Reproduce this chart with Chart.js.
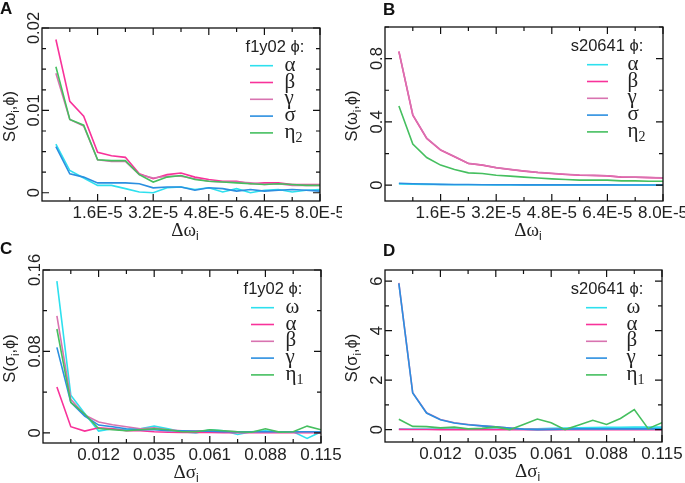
<!DOCTYPE html>
<html>
<head>
<meta charset="utf-8">
<script src="https://cdn.jsdelivr.net/npm/chart.js@4.4.1/dist/chart.umd.min.js"></script>
<style>
  body { margin: 0; background: #fff; width: 685px; height: 483px; position: relative; overflow: hidden; }
  canvas { position: absolute; }
</style>
</head>
<body>
<canvas id="panelA" width="342" height="241" style="left:0;top:0"></canvas>
<canvas id="panelB" width="343" height="241" style="left:342px;top:0"></canvas>
<canvas id="panelC" width="342" height="242" style="left:0;top:241px"></canvas>
<canvas id="panelD" width="343" height="242" style="left:342px;top:241px"></canvas>
<script>
// x positions: frequency steps (A, B)
const dOmega = [0.4e-5, 0.8e-5, 1.2e-5, 1.6e-5, 2.0e-5, 2.4e-5, 2.8e-5, 3.2e-5, 3.6e-5, 4.0e-5,
                4.4e-5, 4.8e-5, 5.2e-5, 5.6e-5, 6.0e-5, 6.4e-5, 6.8e-5, 7.2e-5, 7.6e-5, 8.0e-5];
const omegaTicks = [1.6e-5, 3.2e-5, 4.8e-5, 6.4e-5, 8.0e-5];
const omegaTickLabels = ['1.6E-5', '3.2E-5', '4.8E-5', '6.4E-5', '8.0E-5'];
const omegaMinorTicks = [0.8e-5, 2.4e-5, 4.0e-5, 5.6e-5, 7.2e-5];

// x positions: sigma steps (C, D), plotted evenly spaced
const dSigmaPos = [1, 2, 3, 4, 5, 6, 7, 8, 9, 10, 11, 12, 13, 14, 15, 16, 17, 18, 19, 20];
const sigmaTicks = [4, 8, 12, 16, 20];
const sigmaTickLabels = ['0.012', '0.035', '0.061', '0.088', '0.115'];
const sigmaMinorTicks = [2, 6, 10, 14, 18];

const omegaNames = ['α', 'β', 'γ', 'σ', 'η2'];
const sigmaNames = ['ω', 'α', 'β', 'γ', 'η1'];

// panel A: f1y02, S(omega_i, phi)
const alphaA = [0.0059, 0.0027, 0.0018, 0.0009, 0.0009, 0.0005, 0.0001, 0.0000, 0.0006, 0.0007,
                0.0004, 0.0006, 0.0001, 0.0005, 0.0000, 0.0003, 0.0004, 0.0001, 0.0003, 0.0004];
const betaA  = [0.0186, 0.0111, 0.0093, 0.0049, 0.0045, 0.0043, 0.0023, 0.0017, 0.0022, 0.0024,
                0.0019, 0.0016, 0.0014, 0.0014, 0.0011, 0.0012, 0.0012, 0.0010, 0.0010, 0.0010];
const gammaA = [0.0145, 0.0089, 0.0081, 0.0040, 0.0038, 0.0038, 0.0022, 0.0018, 0.0020, 0.0020,
                0.0017, 0.0014, 0.0013, 0.0013, 0.0012, 0.0010, 0.0011, 0.0009, 0.0009, 0.0009];
const sigmaA = [0.0056, 0.0023, 0.0019, 0.0012, 0.0012, 0.0012, 0.0011, 0.0006, 0.0007, 0.0007,
                0.0003, 0.0006, 0.0005, 0.0002, 0.0004, 0.0002, 0.0003, 0.0004, 0.0003, 0.0002];
const eta2A  = [0.0153, 0.0089, 0.0082, 0.0040, 0.0039, 0.0039, 0.0022, 0.0013, 0.0019, 0.0021,
                0.0016, 0.0014, 0.0013, 0.0012, 0.0011, 0.0010, 0.0011, 0.0010, 0.0009, 0.0009];

// panel B: s20641, S(omega_i, phi)
const alphaB = [0.008, 0.006, 0.005, 0.004, 0.003, 0.003, 0.003, 0.002, 0.002, 0.002,
                0.002, 0.002, 0.001, 0.001, 0.001, 0.001, 0.001, 0.001, 0.001, 0.001];
const betaB  = [0.844, 0.443, 0.295, 0.222, 0.180, 0.137, 0.127, 0.110, 0.099, 0.089,
                0.080, 0.074, 0.068, 0.063, 0.061, 0.059, 0.051, 0.050, 0.048, 0.045];
const gammaB = [0.846, 0.445, 0.297, 0.223, 0.181, 0.138, 0.128, 0.111, 0.100, 0.090,
                0.081, 0.075, 0.069, 0.064, 0.062, 0.060, 0.052, 0.051, 0.049, 0.046];
const sigmaB = [0.012, 0.009, 0.007, 0.005, 0.004, 0.004, 0.003, 0.003, 0.003, 0.002,
                0.002, 0.002, 0.002, 0.002, 0.002, 0.002, 0.001, 0.001, 0.001, 0.001];
const eta2B  = [0.500, 0.260, 0.175, 0.127, 0.099, 0.078, 0.074, 0.063, 0.057, 0.051,
                0.045, 0.040, 0.036, 0.032, 0.032, 0.032, 0.027, 0.027, 0.025, 0.025];

// panel C: f1y02, S(sigma_i, phi)
const omegaC = [0.149, 0.037, 0.019, 0.0017, 0.004, 0.003, 0.004, 0.0066, 0.004, 0.001,
                0.000, 0.003, 0.002, -0.0016, 0.001, 0.002, 0.0007, 0.001, -0.0055, 0.001];
const alphaC = [0.045, 0.006, 0.0017, 0.005, 0.004, 0.002, 0.002, 0.001, 0.0005, 0.0004,
                0.0003, 0.0003, 0.0002, 0.0002, 0.0002, 0.0001, 0.0001, 0.0001, 0.0001, 0.0001];
const betaC  = [0.115, 0.033, 0.0175, 0.0106, 0.008, 0.006, 0.004, 0.005, 0.003, 0.002,
                0.002, 0.002, 0.0015, 0.001, 0.001, 0.001, 0.001, 0.0008, 0.0008, 0.0008];
const gammaC = [0.084, 0.030, 0.0165, 0.0076, 0.006, 0.004, 0.003, 0.003, 0.002, 0.002,
                0.0015, 0.0015, 0.0012, 0.001, 0.001, 0.001, 0.001, 0.001, 0.001, 0.001];
const eta1C  = [0.102, 0.030, 0.0185, 0.0043, 0.003, 0.002, 0.003, 0.004, 0.003, 0.001,
                0.001, 0.003, 0.002, 0.001, 0.0005, 0.004, 0.0007, 0.001, 0.0066, 0.003];

// panel D: s20641, S(sigma_i, phi)
const omegaD = [0.02, 0.02, 0.02, 0.02, 0.02, 0.02, 0.02, 0.02, 0.02, 0.02,
                0.03, 0.05, 0.06, 0.07, 0.08, 0.09, 0.09, 0.10, 0.10, 0.10];
const alphaD = [0.01, 0.005, 0.003, 0.002, 0.002, 0.001, 0.001, 0.001, 0.001, 0.001,
                0.001, 0.001, 0.001, 0.001, 0.001, 0.001, 0.001, 0.001, 0.001, 0.001];
const betaD  = [5.93, 1.49, 0.68, 0.41, 0.28, 0.21, 0.15, 0.11, 0.06, 0.02,
                0.00, 0.01, 0.02, 0.03, 0.03, 0.03, 0.03, 0.03, 0.03, 0.03];
const gammaD = [5.91, 1.48, 0.67, 0.40, 0.27, 0.20, 0.15, 0.11, 0.06, 0.02,
                0.00, 0.01, 0.02, 0.03, 0.03, 0.03, 0.03, 0.03, 0.03, 0.03];
const eta1D  = [0.42, 0.13, 0.12, 0.07, 0.10, 0.03, 0.05, 0.11, 0.00, 0.21,
                0.43, 0.28, 0.00, 0.19, 0.38, 0.21, 0.45, 0.81, 0.04, 0.28];

const lineColors = ['#2ee0ee', '#f8329a', '#d873b0', '#2b8fe0', '#45bf5f'];
const SANS = '"Liberation Sans", Arial, sans-serif';
const SERIF = '"Liberation Serif", "Times New Roman", serif';
const INK = '#222';

function runsWidth(ctx, runs) {
    let w = 0;
    runs.forEach(r => { ctx.font = r.f; w += ctx.measureText(r.t).width; });
    return w;
}

function drawRuns(ctx, runs, x, y, align) {
    let cx = x;
    let w = runsWidth(ctx, runs);
    if (align === 'center') cx = x - w / 2;
    if (align === 'right') cx = x - w;
    runs.forEach(r => {
        ctx.font = r.f;
        ctx.fillText(r.t, cx, y + (r.dy || 0));
        cx += ctx.measureText(r.t).width;
    });
}

// frame, inward ticks, labels, titles and key in the old gnuplot look
const gnuStyle = {
    id: 'gnuStyle',
    afterDatasetsDraw(chart, args, o) {
        let ctx = chart.ctx;
        let a = chart.chartArea;
        let xs = chart.scales.x, ys = chart.scales.y;
        ctx.save();
        ctx.strokeStyle = '#111';
        ctx.fillStyle = INK;
        ctx.lineWidth = 1.3;
        ctx.strokeRect(a.left, a.top, a.right - a.left, a.bottom - a.top);

        ctx.lineWidth = 1.2;
        ctx.beginPath();
        o.xMajor.concat(o.xMinor).forEach((v, i) => {
            let len = i < o.xMajor.length ? 7 : 4;
            let px = xs.getPixelForValue(v);
            ctx.moveTo(px, a.bottom); ctx.lineTo(px, a.bottom - len);
            ctx.moveTo(px, a.top); ctx.lineTo(px, a.top + len);
        });
        o.yMajor.concat(o.yMinor).forEach((v, i) => {
            let len = i < o.yMajor.length ? 7 : 4;
            let py = ys.getPixelForValue(v);
            ctx.moveTo(a.left, py); ctx.lineTo(a.left + len, py);
            ctx.moveTo(a.right, py); ctx.lineTo(a.right - len, py);
        });
        ctx.stroke();

        // tick labels
        ctx.textAlign = 'center';
        ctx.textBaseline = 'alphabetic';
        ctx.font = '17px ' + SANS;
        o.xMajor.forEach((v, i) => {
            ctx.fillText(o.xLabels[i], xs.getPixelForValue(v), a.bottom + 17);
        });
        ctx.font = '16.5px ' + SANS;
        o.yMajor.forEach((v, i) => {
            ctx.save();
            ctx.translate(a.left - 3, ys.getPixelForValue(v));
            ctx.rotate(-Math.PI / 2);
            ctx.fillText(o.yLabels[i], 0, 0);
            ctx.restore();
        });

        // axis titles
        ctx.textAlign = 'left';
        drawRuns(ctx, o.xTitle, (a.left + a.right) / 2 + 4, a.bottom + 35, 'center');
        ctx.save();
        ctx.translate(15, (a.top + a.bottom) / 2 + 2);
        ctx.rotate(-Math.PI / 2);
        drawRuns(ctx, o.yTitle, 0, 0, 'center');
        ctx.restore();

        // panel letter
        ctx.fillStyle = '#111';
        ctx.font = 'bold 17px ' + SANS;
        ctx.fillText(o.letter, o.letterX, o.letterY);

        // key
        ctx.fillStyle = INK;
        ctx.font = '16.5px ' + SANS;
        ctx.textAlign = 'center';
        ctx.fillText(o.keyTitle, a.right - o.keyTitleDx, a.top + 24);
        ctx.textAlign = 'left';
        chart.data.datasets.forEach((ds, k) => {
            let y = a.top + 37.7 + 16.8 * k;
            ctx.strokeStyle = ds.borderColor;
            ctx.lineWidth = 1.6;
            ctx.beginPath();
            ctx.moveTo(a.right - o.keyLine[0], y);
            ctx.lineTo(a.right - o.keyLine[1], y);
            ctx.stroke();
            let base = ds.label.replace(/\d+$/, '');
            let sub = ds.label.slice(base.length);
            let runs = [{ t: base, f: '21px ' + SERIF }];
            if (sub) runs.push({ t: sub, f: '14px ' + SERIF, dy: 4 });
            drawRuns(ctx, runs, a.right - 35.5, y + 5, 'left');
        });
        ctx.restore();
    }
};

function makePanel(id, xs, series, names, cfg) {
    new Chart(document.getElementById(id), {
        type: 'line',
        data: {
            datasets: series.map((s, k) => ({
                label: names[k],
                data: s.map((v, i) => ({ x: xs[i], y: v })),
                borderColor: lineColors[k],
                borderWidth: 1.6,
                pointRadius: 0,
                tension: 0,
                order: series.length - k
            }))
        },
        options: {
            responsive: false,
            animation: false,
            layout: { padding: cfg.pad },
            plugins: { legend: { display: false }, tooltip: { enabled: false }, gnuStyle: cfg },
            scales: {
                x: { type: 'linear', display: false, min: cfg.xMin, max: cfg.xMax },
                y: { type: 'linear', display: false, min: cfg.yMin, max: cfg.yMax }
            }
        },
        plugins: [gnuStyle]
    });
}

const omegaXTitle = [{ t: 'Δω', f: '19px ' + SERIF }, { t: 'i', f: '12px ' + SANS, dy: 4 }];
const sigmaXTitle = [{ t: 'Δσ', f: '19px ' + SERIF }, { t: 'i', f: '12px ' + SANS, dy: 4 }];
const omegaYTitle = [{ t: 'S(ω', f: '16.5px ' + SANS }, { t: 'i', f: '11px ' + SANS, dy: 4 }, { t: ',ϕ)', f: '16.5px ' + SANS }];
const sigmaYTitle = [{ t: 'S(σ', f: '16.5px ' + SANS }, { t: 'i', f: '11px ' + SANS, dy: 4 }, { t: ',ϕ)', f: '16.5px ' + SANS }];

makePanel('panelA', dOmega, [alphaA, betaA, gammaA, sigmaA, eta2A], omegaNames, {
    pad: { left: 42, top: 28, right: 22, bottom: 40 },
    xMin: 0, xMax: 8e-5, yMin: -0.001, yMax: 0.02,
    xMajor: omegaTicks, xLabels: omegaTickLabels, xMinor: omegaMinorTicks,
    yMajor: [0, 0.01, 0.02], yLabels: ['0', '0.01', '0.02'],
    yMinor: [0.0025, 0.005, 0.0075, 0.0125, 0.015, 0.0175],
    xTitle: omegaXTitle, yTitle: omegaYTitle,
    letter: 'A', letterX: 0, letterY: 14,
    keyTitle: 'f1y02 ϕ:', keyTitleDx: 45, keyLine: [70, 47]
});

makePanel('panelB', dOmega, [alphaB, betaB, gammaB, sigmaB, eta2B], omegaNames, {
    pad: { left: 43, top: 27, right: 22, bottom: 40 },
    xMin: 0, xMax: 8e-5, yMin: -0.1, yMax: 1.0,
    xMajor: omegaTicks, xLabels: omegaTickLabels, xMinor: omegaMinorTicks,
    yMajor: [0, 0.4, 0.8], yLabels: ['0', '0.4', '0.8'], yMinor: [0.2, 0.6, 1.0],
    xTitle: omegaXTitle, yTitle: omegaYTitle,
    letter: 'B', letterX: 41, letterY: 15,
    keyTitle: 's20641 ϕ:', keyTitleDx: 56, keyLine: [76, 55]
});

makePanel('panelC', dSigmaPos, [omegaC, alphaC, betaC, gammaC, eta1C], sigmaNames, {
    pad: { left: 43, top: 29, right: 21, bottom: 40 },
    xMin: 0, xMax: 20, yMin: -0.01, yMax: 0.16,
    xMajor: sigmaTicks, xLabels: sigmaTickLabels, xMinor: sigmaMinorTicks,
    yMajor: [0, 0.08, 0.16], yLabels: ['0', '0.08', '0.16'], yMinor: [0.04, 0.12],
    xTitle: sigmaXTitle, yTitle: sigmaYTitle,
    letter: 'C', letterX: 0, letterY: 13,
    keyTitle: 'f1y02 ϕ:', keyTitleDx: 48, keyLine: [70, 47]
});

makePanel('panelD', dSigmaPos, [omegaD, alphaD, betaD, gammaD, eta1D], sigmaNames, {
    pad: { left: 43, top: 29, right: 23, bottom: 41 },
    xMin: 0, xMax: 20, yMin: -0.5, yMax: 6.45,
    xMajor: sigmaTicks, xLabels: sigmaTickLabels, xMinor: sigmaMinorTicks,
    yMajor: [0, 2, 4, 6], yLabels: ['0', '2', '4', '6'], yMinor: [1, 3, 5],
    xTitle: sigmaXTitle, yTitle: sigmaYTitle,
    letter: 'D', letterX: 41, letterY: 15,
    keyTitle: 's20641 ϕ:', keyTitleDx: 55, keyLine: [76, 55]
});
</script>
</body>
</html>
